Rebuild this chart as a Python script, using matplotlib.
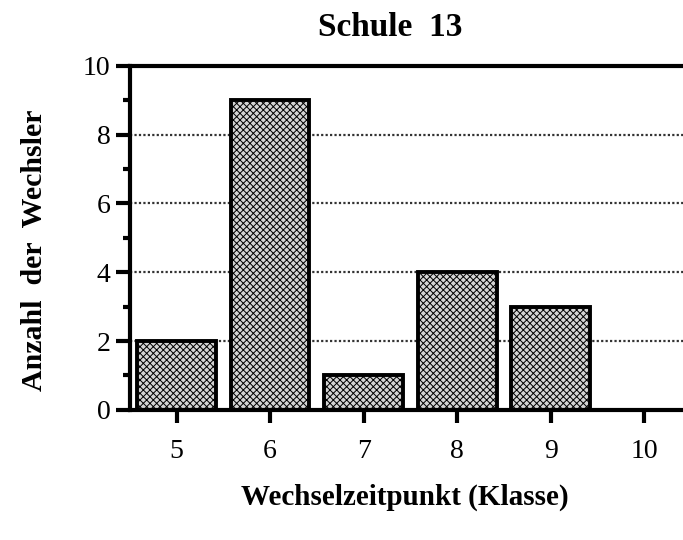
import matplotlib
matplotlib.use("Agg")
import matplotlib.pyplot as plt
from matplotlib.ticker import MultipleLocator

categories = [5, 6, 7, 8, 9, 10]
values = [2, 9, 1, 4, 3, 0]
title = "Schule  13"
xlabel = "Wechselzeitpunkt (Klasse)"
ylabel = "Anzahl  der  Wechsler"

plt.rcParams['font.family'] = ['Liberation Serif', 'DejaVu Serif']
plt.rcParams['hatch.color'] = '#606060'
plt.rcParams['hatch.linewidth'] = 0.7

fig = plt.figure(figsize=(6.83, 5.40), dpi=100)
ax = fig.add_axes([0.190, 0.241, 0.815, 0.637])

ax.set_xlim(4.5, 10.45)
ax.set_ylim(0, 10)

for y in [2, 4, 6, 8]:
    ax.axhline(y, color='#333333', linestyle=(0, (1, 1)), linewidth=1.6, zorder=1)

ax.bar(categories, values, width=0.84, facecolor='#d4d4d4', edgecolor='black',
       linewidth=2.8, hatch='xxxxx', zorder=2)

ax.spines['right'].set_visible(False)
ax.spines['top'].set_linewidth(3)
ax.spines['left'].set_linewidth(3)
ax.spines['bottom'].set_linewidth(3)

ax.set_xticks(categories)
ax.set_xticklabels([str(c) for c in categories])
ax.yaxis.set_major_locator(MultipleLocator(2))
ax.yaxis.set_minor_locator(MultipleLocator(1))
ax.tick_params(axis='y', which='major', direction='out', length=10, width=3, labelsize=20, pad=4)
ax.tick_params(axis='y', which='minor', direction='out', length=5, width=3)
ax.tick_params(axis='x', which='major', direction='out', length=9, width=3, labelsize=20, pad=12)

fig.text(390 / 683, 1 - 28 / 540, title, fontsize=24, fontweight='bold', ha='center', va='center')
fig.text(405 / 683, 1 - 497 / 540, xlabel, fontsize=21, fontweight='bold', ha='center', va='center')
fig.text(35 / 683, 1 - 250 / 540, ylabel, fontsize=21.5, fontweight='bold', ha='center', va='center',
         rotation=90)

fig.savefig("out.png", dpi=100)
